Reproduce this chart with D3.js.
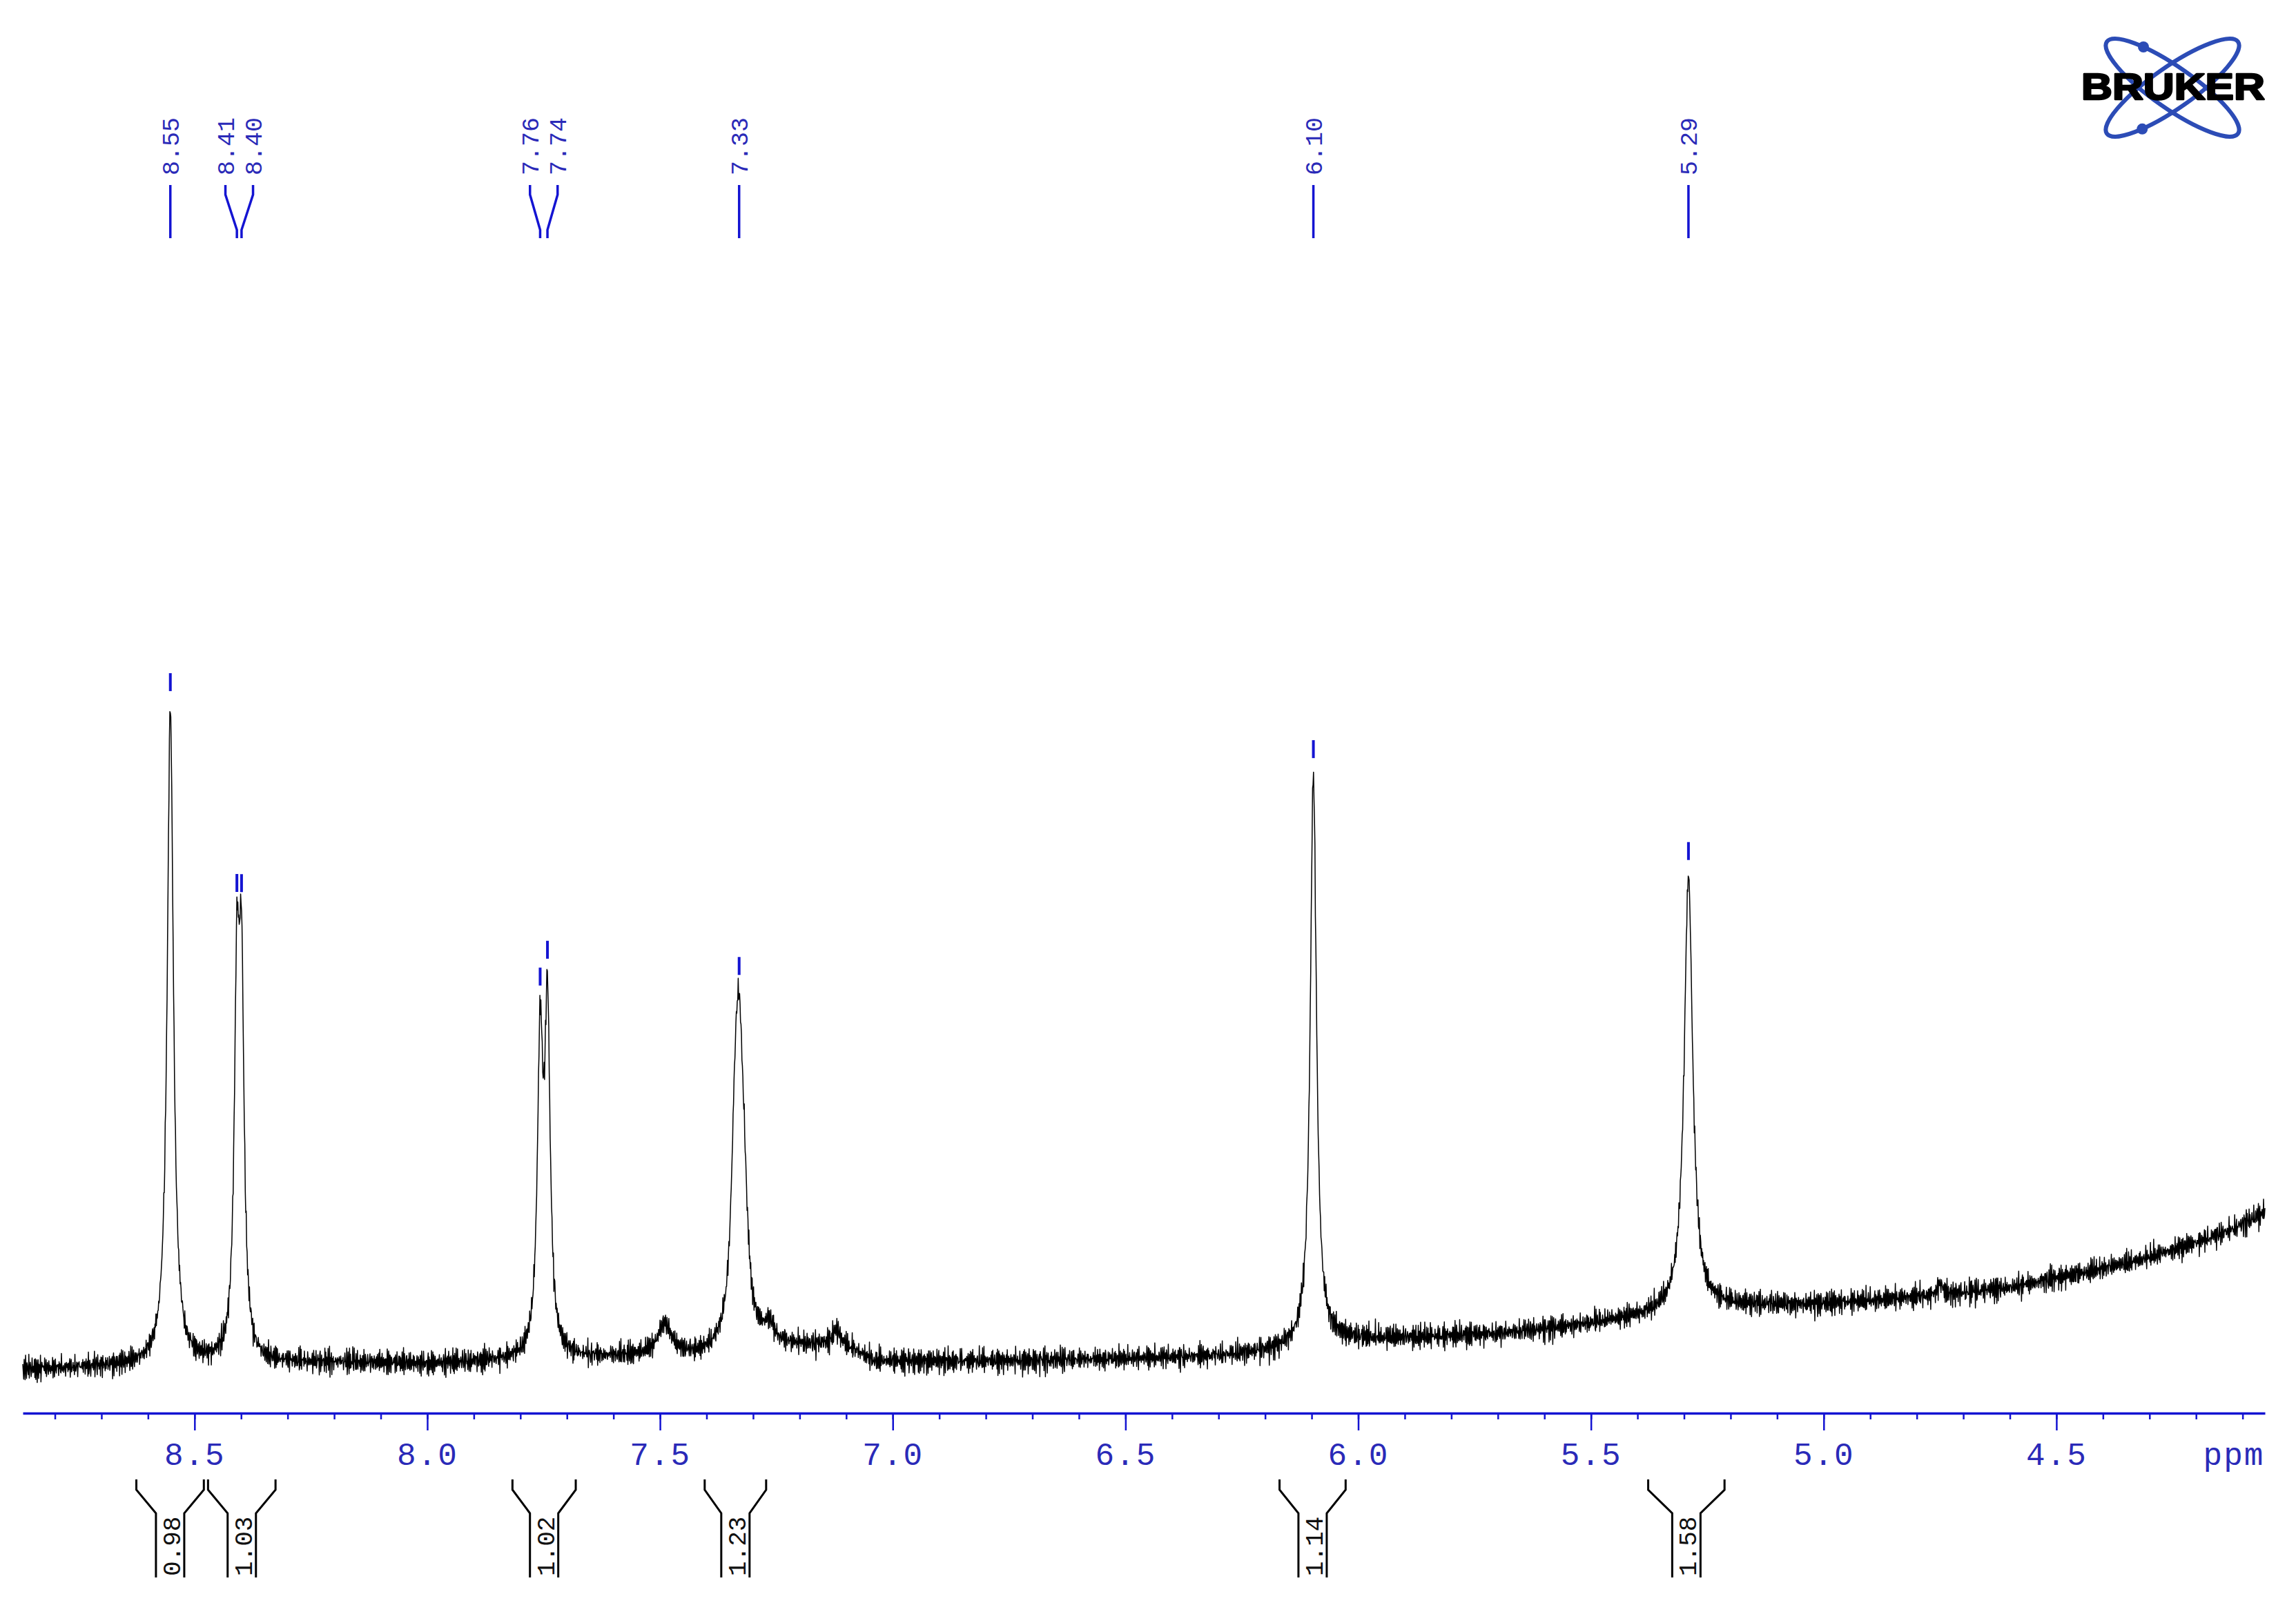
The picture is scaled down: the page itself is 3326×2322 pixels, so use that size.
<!DOCTYPE html>
<html><head><meta charset="utf-8">
<script src="https://cdn.jsdelivr.net/npm/d3@7"></script>
<style>html,body{margin:0;padding:0;background:#fff;}svg{display:block;}</style>
</head><body>
<script>
// ---- data ----
const peakLabels = ["8.55","8.41","8.40","7.76","7.74","7.33","6.10","5.29"];
const peakPpm    = [8.552, 8.409, 8.399, 7.7575, 7.7418, 7.330, 6.0963, 5.2905];

// lineshape components (ppm, height above baseline, half width in ppm)
const linePpm    = [8.552, 8.409, 8.399, 7.7575, 7.7418, 7.339, 7.330, 7.3195, 7.49, 7.265, 7.12, 6.0963, 5.2905, 4.75];
const lineHeight = [95.0, 50.6, 50.6, 43.7, 48.3, 22, 33, 14, 4.5, 2.5, 2.5, 82.5, 62.8, 1.8];
const lineHalfW  = [0.008, 0.0065, 0.0065, 0.007, 0.007, 0.010, 0.010, 0.010, 0.018, 0.012, 0.012, 0.008, 0.011, 0.006];

// baseline level
const baselinePpm   = [8.87, 8.70, 8.62, 8.45, 8.30, 8.10, 8.00, 7.85, 7.70, 7.55, 7.42, 7.36, 7.28, 7.15, 7.08, 7.04, 6.90, 6.70, 6.50, 6.30, 6.18, 6.05, 5.90, 5.70, 5.55, 5.42, 5.34, 5.22, 5.05, 4.90, 4.75, 4.60, 4.45, 4.32, 4.20, 4.12, 4.05];
const baselineLevel = [1.6, 2.0, 2.2, 2.4, 2.6, 2.6, 2.4, 2.8, 3.2, 3.5, 3.5, 4.0, 5.0, 5.0, 4.2, 2.8, 2.8, 2.9, 3.2, 3.6, 4.3, 5.8, 6.2, 6.8, 7.8, 9.0, 9.8, 10.8, 11.0, 11.6, 12.4, 13.5, 15.5, 17.5, 20.0, 22.0, 24.5];

// baseline noise samples
const noiseA = [0.42,-0.81,0.13,0.95,-0.37,-0.66,0.28,0.71,-0.92,0.05,0.58,-0.24,-0.73,0.88,-0.11,0.34,-0.57,0.77,-0.98,0.19,0.63,-0.45,-0.08,0.91,-0.69,0.26,-0.33,0.52,-0.87,0.14,0.79,-0.51,-0.19,0.67,-0.94,0.38,0.09,-0.62,0.84,-0.29,-0.76,0.47,0.22,-0.41,0.97,-0.15,-0.58,0.31,0.69,-0.83,0.02,0.55,-0.35];
const noiseB = [-0.27,0.64,-0.88,0.17,0.49,-0.53,0.93,-0.06,-0.71,0.36,0.82,-0.44,-0.12,0.59,-0.96,0.24,0.71,-0.31,-0.64,0.08,0.87,-0.49,0.33,-0.79,0.45,0.16,-0.58,0.92,-0.21,-0.38,0.74,-0.85,0.11,0.57,-0.14,-0.67,0.29];
const noiseC = [0.61,-0.22,-0.79,0.35,0.07,-0.46,0.89,-0.63,0.18,0.52,-0.91,0.27,-0.04,0.73,-0.36,-0.55,0.84,-0.17,0.41,-0.72,0.12,0.66,-0.89,0.23,-0.3,0.95,-0.48,0.04,-0.6];

const axisMajor = ["8.5","8.0","7.5","7.0","6.5","6.0","5.5","5.0","4.5"];
const axisUnit = "ppm";

const integralStart  = [8.625, 8.471, 7.817, 7.404, 6.169, 5.377];
const integralEnd    = [8.480, 8.326, 7.681, 7.272, 6.027, 5.213];
const integralValues = ["0.98","1.03","1.02","1.23","1.14","1.58"];

// ---- drawing ----
const W = 3326, H = 2322;
const BLUE = "#1414d2", BLUE_TXT = "#2a2ab8";
const svg = d3.select("body").append("svg").attr("width", W).attr("height", H)
  .style("background", "#fff");

const x = d3.scaleLinear().domain([8.869, 4.052]).range([33, 3281]);
const y = d3.scaleLinear().domain([0, 100]).range([2000, 1000]);
const axisY = 2047;

const base = d3.scaleLinear().domain(baselinePpm).range(baselineLevel).clamp(true);
function model(p) {
  let s = base(p);
  for (let i = 0; i < linePpm.length; i++) {
    const g = lineHalfW[i], d = p - linePpm[i];
    s += lineHeight[i] * g * g / (d * d + g * g);
  }
  return s;
}
const step = 0.001;
const pts = d3.range(0, Math.floor((8.869 - 4.052) / step) + 1).map(i => {
  const p = 8.869 - i * step;
  const n = (noiseA[i % noiseA.length] + noiseB[i % noiseB.length] + noiseC[i % noiseC.length]) * 0.95;
  return {p, v: model(p) + n};
});
svg.append("path").datum(pts)
  .attr("d", d3.line().x(d => x(d.p)).y(d => y(d.v)))
  .attr("fill", "none").attr("stroke", "#000").attr("stroke-width", 1.5)
  .attr("stroke-linejoin", "round");

// axis
const majorVals = axisMajor.map(Number);
const gMinor = svg.append("g").attr("transform", `translate(0,${axisY})`)
  .call(d3.axisBottom(x).tickValues(x.ticks(50)).tickSize(9).tickSizeOuter(0).tickFormat(""));
gMinor.selectAll(".tick line").attr("stroke", BLUE).attr("stroke-width", 2.5);
gMinor.select(".domain").attr("stroke", BLUE).attr("stroke-width", 3.5);
const gMajor = svg.append("g").attr("transform", `translate(0,${axisY})`)
  .call(d3.axisBottom(x).tickValues(majorVals).tickSize(25).tickSizeOuter(0)
    .tickFormat((d, i) => axisMajor[i]));
gMajor.select(".domain").remove();
gMajor.selectAll(".tick line").attr("stroke", BLUE).attr("stroke-width", 2.5);
gMajor.selectAll(".tick text").attr("y", 75).attr("dy", 0)
  .attr("fill", BLUE_TXT).attr("font-family", "Liberation Mono, monospace")
  .attr("font-size", 46).attr("letter-spacing", 2);
svg.append("text").attr("x", 3236).attr("y", axisY + 75).attr("text-anchor", "middle")
  .attr("fill", BLUE_TXT).attr("font-family", "Liberation Mono, monospace")
  .attr("font-size", 46).attr("letter-spacing", 2).text(axisUnit);

// peak labels
const px = peakPpm.map(p => x(p));
const groups = [];
px.forEach((v, i) => {
  const g = groups[groups.length - 1];
  if (g && v - g.last < 40) { g.idx.push(i); g.last = v; } else groups.push({idx: [i], last: v});
});
const labelX = new Array(px.length);
groups.forEach(g => {
  const m = d3.mean(g.idx, i => px[i]);
  g.idx.forEach((i, k) => labelX[i] = m + (k - (g.idx.length - 1) / 2) * 40);
});
const gl = svg.append("g");
peakPpm.forEach((p, i) => {
  gl.append("path")
    .attr("d", `M${labelX[i]},268V282L${px[i]},333V345`)
    .attr("fill", "none").attr("stroke", BLUE).attr("stroke-width", 3.5);
  gl.append("text").attr("transform", `translate(${labelX[i]},254) rotate(-90)`)
    .attr("dy", "0.35em").attr("text-anchor", "start")
    .attr("fill", BLUE_TXT).attr("font-family", "Liberation Mono, monospace")
    .attr("font-size", 35).text(peakLabels[i]);
  const top = y(model(p));
  gl.append("line").attr("x1", px[i]).attr("x2", px[i])
    .attr("y1", top - 50).attr("y2", top - 24)
    .attr("stroke", BLUE).attr("stroke-width", 4);
});

// integrals
const gi = svg.append("g");
integralStart.forEach((s, i) => {
  const x0 = x(s), x1 = x(integralEnd[i]), c = (x0 + x1) / 2, hw = 20.5;
  gi.append("path")
    .attr("d", `M${x0},2143V2158L${c - hw},2192V2285M${x1},2143V2158L${c + hw},2192V2285`)
    .attr("fill", "none").attr("stroke", "#000").attr("stroke-width", 3);
  gi.append("text").attr("transform", `translate(${c + 2},2283) rotate(-90)`)
    .attr("dy", "0.35em").attr("text-anchor", "start")
    .attr("fill", "#111").attr("font-family", "Liberation Mono, monospace")
    .attr("font-size", 36).text(integralValues[i]);
});

// Bruker logo
const logo = svg.append("g").attr("transform", "translate(3147,127)");
const a = 116, b = 30;
[35, -35].forEach(th => {
  logo.append("ellipse").attr("rx", a).attr("ry", b).attr("transform", `rotate(${th})`)
    .attr("fill", "none").attr("stroke", "#2c4cb6").attr("stroke-width", 6);
});
function onEllipse(th, t) {
  const r = th * Math.PI / 180, u = a * Math.cos(t), v = b * Math.sin(t);
  return [u * Math.cos(r) - v * Math.sin(r), u * Math.sin(r) + v * Math.cos(r)];
}
[[35, -2.2], [-35, 2.22]].forEach(([th, t]) => {
  const [cx, cy] = onEllipse(th, t);
  logo.append("circle").attr("cx", cx).attr("cy", cy).attr("r", 8).attr("fill", "#2c4cb6");
});
logo.append("text").attr("x", -132).attr("y", 17).attr("textLength", 266)
  .attr("lengthAdjust", "spacingAndGlyphs")
  .attr("font-family", "Liberation Sans, Arial, sans-serif").attr("font-weight", 900)
  .attr("font-size", 54).attr("fill", "#000").attr("stroke", "#000").attr("stroke-width", 2.5)
  .attr("stroke-linejoin", "round").text("BRUKER");
</script>
</body></html>
